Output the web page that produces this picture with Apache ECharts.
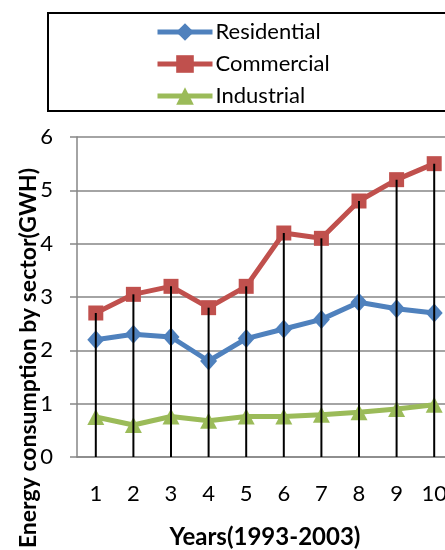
<!DOCTYPE html>
<html>
<head>
<meta charset="utf-8">
<script src="https://cdn.jsdelivr.net/npm/echarts@6/dist/echarts.min.js"></script>
<style>
  html, body { margin: 0; padding: 0; background: #fff; }
  #chart { width: 445px; height: 550px; }
</style>
</head>
<body>
<div id="chart"></div>
<script>
// Energy consumption by sector, 1993-2003 (GWH)
const years = ['1', '2', '3', '4', '5', '6', '7', '8', '9', '10'];
const residential = [2.2, 2.3, 2.25, 1.8, 2.22, 2.4, 2.58, 2.9, 2.78, 2.7];
const commercial = [2.7, 3.05, 3.2, 2.8, 3.2, 4.2, 4.1, 4.8, 5.2, 5.5];
const industrial = [0.75, 0.6, 0.76, 0.68, 0.76, 0.76, 0.79, 0.84, 0.9, 0.98];
const yTicks = { min: 0, max: 6, interval: 1 };

const FONT = 'Lato, "Open Sans", sans-serif';
const GRID_GRAY = '#868686';

const chart = echarts.init(document.getElementById('chart'), null, { renderer: 'canvas' });

chart.setOption({
  animation: false,
  backgroundColor: '#fff',
  textStyle: { fontFamily: FONT },
  graphic: [
    {
      type: 'rect',
      shape: { x: 48, y: 13, width: 420, height: 98 },
      style: { fill: 'none', stroke: '#000', lineWidth: 2 },
      z: 0
    },
    {
      type: 'text',
      x: 29,
      y: 358,
      rotation: Math.PI / 2,
      style: {
        text: 'Energy consumption by sector(GWH)',
        font: 'bold 23px ' + FONT,
        fill: '#000',
        align: 'center',
        verticalAlign: 'middle'
      }
    }
  ],
  legend: {
    data: ['Residential', 'Commercial', 'Industrial'],
    orient: 'vertical',
    left: 155,
    top: 21,
    padding: 0,
    itemGap: 10,
    itemWidth: 55,
    itemHeight: 22,
    lineStyle: { width: 5 },
    textStyle: { fontSize: 22, color: '#000', fontFamily: FONT, padding: [0, 0, 0, -2] }
  },
  grid: {
    left: 77,
    top: 137,
    width: 376,
    height: 320,
    containLabel: false,
    outerBoundsMode: 'none'
  },
  xAxis: {
    type: 'category',
    data: years,
    boundaryGap: true,
    name: 'Years(1993-2003)',
    nameLocation: 'middle',
    nameGap: 68,
    nameTextStyle: { fontSize: 24, fontWeight: 'bold', color: '#000', fontFamily: FONT },
    axisLine: { show: true, lineStyle: { color: GRID_GRAY, width: 1.5 } },
    axisTick: { show: false },
    axisLabel: { fontSize: 22, color: '#000', margin: 26, fontFamily: FONT },
    splitLine: { show: false }
  },
  yAxis: {
    type: 'value',
    min: yTicks.min,
    max: yTicks.max,
    interval: yTicks.interval,
    axisLine: { show: true, lineStyle: { color: GRID_GRAY, width: 1.5 } },
    axisTick: { show: true, length: 7, lineStyle: { color: GRID_GRAY, width: 1.5 } },
    axisLabel: { fontSize: 22, color: '#000', margin: 24, fontFamily: FONT },
    splitLine: { show: true, lineStyle: { color: GRID_GRAY, width: 1.5 } }
  },
  series: [
    {
      name: 'Residential',
      type: 'line',
      data: residential,
      symbol: 'diamond',
      symbolSize: [17, 19],
      lineStyle: { color: '#4f81bd', width: 5 },
      itemStyle: { color: '#4f81bd' },
      z: 3
    },
    {
      name: 'Commercial',
      type: 'line',
      data: commercial,
      symbol: 'rect',
      symbolSize: 15,
      lineStyle: { color: '#c0504d', width: 5 },
      itemStyle: { color: '#c0504d' },
      z: 3
    },
    {
      name: 'Industrial',
      type: 'line',
      data: industrial,
      symbol: 'triangle',
      symbolSize: [17, 16],
      lineStyle: { color: '#9bbb59', width: 5 },
      itemStyle: { color: '#9bbb59' },
      z: 3
    },
    {
      // drop lines from the commercial values down to the axis
      name: 'drop',
      type: 'bar',
      data: commercial,
      barWidth: 2,
      itemStyle: { color: '#000' },
      silent: true,
      z: 5
    }
  ]
});
</script>
</body>
</html>
